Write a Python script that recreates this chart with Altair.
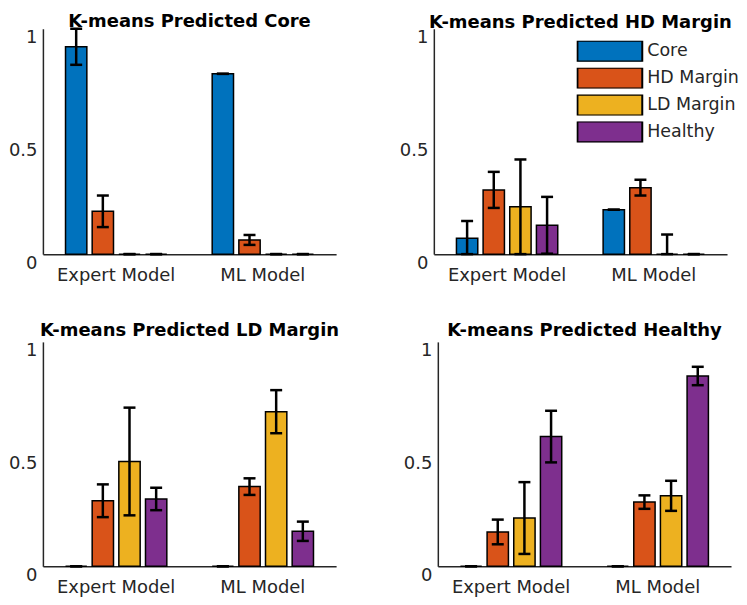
import altair as alt
import pandas as pd

panels = ["K-means Predicted Core", "K-means Predicted HD Margin",
          "K-means Predicted LD Margin", "K-means Predicted Healthy"]
models = ["Expert Model", "ML Model"]
classes = ["Core", "HD Margin", "LD Margin", "Healthy"]
colors = ["#0072BD", "#D95319", "#EDB120", "#7E2F8E"]

# mean fraction (Core, HD Margin, LD Margin, Healthy) and error half-width
core_expert = [0.92, 0.19, 0.0, 0.0]
core_expert_err = [0.08, 0.07, 0.0, 0.0]
core_ml = [0.80, 0.063, 0.0, 0.0]
core_ml_err = [0.0, 0.022, 0.0, 0.0]

hd_expert = [0.07, 0.285, 0.21, 0.128]
hd_expert_err = [0.077, 0.08, 0.21, 0.126]
hd_ml = [0.197, 0.295, 0.0, 0.0]
hd_ml_err = [0.0, 0.035, 0.087, 0.0]

ld_expert = [0.0, 0.292, 0.467, 0.30]
ld_expert_err = [0.0, 0.073, 0.24, 0.05]
ld_ml = [0.0, 0.355, 0.689, 0.156]
ld_ml_err = [0.0, 0.037, 0.096, 0.043]

he_expert = [0.0, 0.153, 0.215, 0.578]
he_expert_err = [0.0, 0.055, 0.16, 0.115]
he_ml = [0.0, 0.286, 0.314, 0.848]
he_ml_err = [0.0, 0.03, 0.067, 0.041]

series = {
    panels[0]: [(core_expert, core_expert_err), (core_ml, core_ml_err)],
    panels[1]: [(hd_expert, hd_expert_err), (hd_ml, hd_ml_err)],
    panels[2]: [(ld_expert, ld_expert_err), (ld_ml, ld_ml_err)],
    panels[3]: [(he_expert, he_expert_err), (he_ml, he_ml_err)],
}

rows = []
for p, pairs in series.items():
    for m, (vals, errs) in zip(models, pairs):
        for c, v, e in zip(classes, vals, errs):
            rows.append({"panel": p, "model": m, "cls": c, "value": v, "err": e})
df = pd.DataFrame(rows)

FONT = "DejaVu Sans"


def panel(title, height, title_offset):
    base = alt.Chart(df).transform_filter(alt.datum.panel == title)
    x = alt.X("model:N", sort=models,
              scale=alt.Scale(domain=models, paddingInner=0.273, paddingOuter=0.136),
              axis=alt.Axis(title=None, labelAngle=0, ticks=False, labelPadding=12,
                            labelFontSize=18))
    xo = alt.XOffset("cls:N", sort=classes,
                     scale=alt.Scale(domain=classes, paddingInner=0.2, paddingOuter=0.1))
    yaxis = alt.Axis(title=None, values=[0, 0.5, 1], format="~g", ticks=False,
                     labelPadding=6, labelOffset=0, labelBaseline="top",
                     minExtent=33, maxExtent=33, labelFontSize=18)
    yscale = alt.Scale(domain=[0, 1], nice=False)
    bars = base.mark_bar(stroke="black", strokeWidth=1.5).encode(
        x=x, xOffset=xo,
        y=alt.Y("value:Q", scale=yscale, axis=yaxis),
        color=alt.Color("cls:N", sort=classes,
                        scale=alt.Scale(domain=classes, range=colors),
                        legend=alt.Legend(title=None)),
    )
    eb = base.transform_calculate(
        lo="max(datum.value - datum.err, 0)", hi="datum.value + datum.err")
    rules = eb.mark_rule(color="black", strokeWidth=2.5).encode(
        x=x, xOffset=xo, y=alt.Y("lo:Q", scale=yscale, axis=yaxis), y2="hi:Q")
    cap_hi = eb.mark_tick(color="black", thickness=2.5, size=12, opacity=1).encode(
        x=x, xOffset=xo, y=alt.Y("hi:Q", scale=yscale, axis=yaxis))
    cap_lo = eb.mark_tick(color="black", thickness=2.5, size=12, opacity=1).encode(
        x=x, xOffset=xo, y=alt.Y("lo:Q", scale=yscale, axis=yaxis))
    return alt.layer(bars, rules, cap_hi, cap_lo).properties(
        width=294, height=height,
        title=alt.Title(title, font=FONT, fontSize=18, fontWeight="bold",
                        color="black", anchor="middle", frame="group",
                        offset=title_offset),
    )


top = alt.hconcat(panel(panels[0], 226, -3), panel(panels[1], 226, -3), spacing=63)
bottom = alt.hconcat(panel(panels[2], 225, 2), panel(panels[3], 225, 2), spacing=63)

chart = alt.vconcat(top, bottom, spacing=38).properties(
    padding={"left": 0, "top": 3, "right": 0, "bottom": 0}
).configure_view(stroke=None).configure_axis(
    labelFont=FONT, labelColor="#262626", domainColor="#262626", domainWidth=1.5,
    grid=False,
).configure_legend(
    orient="none", legendX=535, legendY=12,
    symbolType="M-1,-0.32L1,-0.32L1,0.32L-1,0.32Z", symbolSize=4225,
    symbolStrokeColor="black", symbolStrokeWidth=2, symbolOpacity=1,
    labelFont=FONT, labelFontSize=17.5, labelColor="#262626", labelOffset=4,
    clipHeight=21, rowPadding=6,
)

chart.save("out.html", embed_options={"renderer": "svg", "actions": False})
